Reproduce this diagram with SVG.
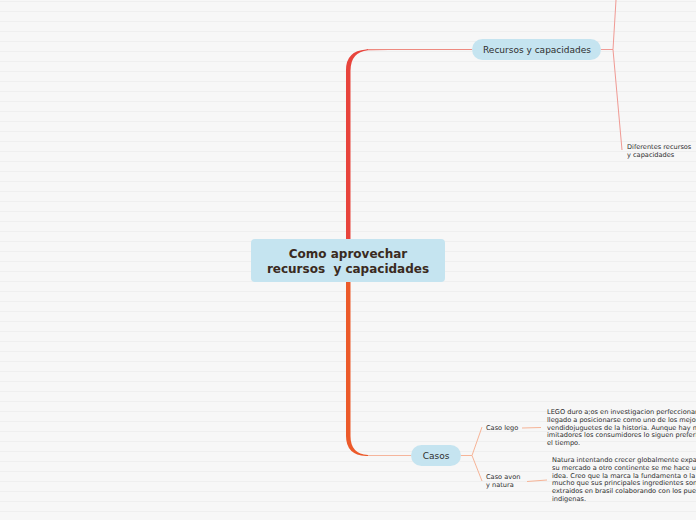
<svg xmlns="http://www.w3.org/2000/svg" width="696" height="520" viewBox="0 0 696 520">
<defs>
<pattern id="bg" x="0" y="1" width="696" height="10" patternUnits="userSpaceOnUse">
<rect width="696" height="10" fill="#f7f7f7"/>
<rect width="696" height="1" fill="#efefef"/>
</pattern>
</defs>
<style>
.node{fill:#c5e4f0}
.t{font-family:"DejaVu Sans",Verdana,sans-serif;fill:#2e2e2e}
.main{font-family:"DejaVu Sans",Verdana,sans-serif;font-weight:bold;font-size:12px;fill:#3a2a20;text-anchor:middle}
.lbl{font-size:9px;text-anchor:middle}
.sm{font-size:6.6px}
.rl{fill:none;stroke:#f09a94;stroke-width:1}
.cl{fill:none;stroke:#f6b497;stroke-width:1}
</style>
<rect width="696" height="520" fill="url(#bg)"/>
<g id="connectors">
<path d="M346 272 L346 70 Q346 51 366 49.5 L368 49 L472 49 L368 50.3 Q350 52 350.5 72 L350.5 272 Z" fill="#e8443c"/>
<path d="M346 258 L346 436 Q346 455 366 456 L411 456 L368 455 Q350.5 454 350.5 436 L350.5 258 Z" fill="#ec5a2a"/>
<path d="M368 49.5 L472 49.5" stroke="#ee8a80" stroke-width="1" fill="none"/>
<path d="M368 455.5 L411 455.5" stroke="#f5b59c" stroke-width="1" fill="none"/>
<path class="rl" d="M601 49.5 L613 49.5"/>
<path class="rl" d="M613 49.5 L616 0"/>
<path class="rl" d="M613 49.5 L622 150"/>
<path class="cl" d="M461 455.5 L472 455.5" stroke-width="1.5"/>
<path class="cl" d="M472 455.5 L482 427"/>
<path class="cl" d="M472 455.5 L482 481"/>
<path class="cl" d="M522 428 L541 427.5"/>
<path class="cl" d="M527 481.5 L547 480"/>
</g>
<g id="center">
<rect class="node" x="251" y="239" width="194" height="43" rx="4"/>
<text class="main" x="348" y="258">Como aprovechar</text>
<text class="main" x="348" y="273" xml:space="preserve">recursos  y capacidades</text>
</g>
<g id="recursos">
<rect class="node" x="472" y="39" width="129" height="21" rx="10.5"/>
<text class="t lbl" x="537" y="53">Recursos y capacidades</text>
</g>
<g id="diferentes">
<text class="t sm" x="627" y="149">Diferentes recursos</text>
<text class="t sm" x="627" y="157">y capacidades</text>
</g>
<g id="casos">
<rect class="node" x="411" y="445" width="50" height="21" rx="10.5"/>
<text class="t lbl" x="436" y="459">Casos</text>
</g>
<g id="caso-lego">
<text class="t sm" x="486" y="430">Caso lego</text>
</g>
<g id="lego-text">
<text class="t sm" x="547" y="414">LEGO duro a;os en investigacion perfeccionar</text>
<text class="t sm" x="547" y="422">llegado a posicionarse como uno de los mejor</text>
<text class="t sm" x="547" y="429.5">vendidojuguetes de la historia. Aunque hay m</text>
<text class="t sm" x="547" y="437">imitadores los consumidores lo siguen preferi</text>
<text class="t sm" x="547" y="445">el tiempo.</text>
</g>
<g id="caso-avon">
<text class="t sm" x="486" y="479">Caso avon</text>
<text class="t sm" x="486" y="487">y natura</text>
</g>
<g id="natura-text">
<text class="t sm" x="552" y="462">Natura intentando crecer globalmente expan</text>
<text class="t sm" x="552" y="470">su mercado a otro continente se me hace un</text>
<text class="t sm" x="552" y="477.5">idea. Creo que la marca la fundamenta o la</text>
<text class="t sm" x="552" y="485">mucho que sus principales ingredientes son</text>
<text class="t sm" x="552" y="493">extraidos en brasil colaborando con los puebl</text>
<text class="t sm" x="552" y="500.5">indigenas.</text>
</g>
</svg>
